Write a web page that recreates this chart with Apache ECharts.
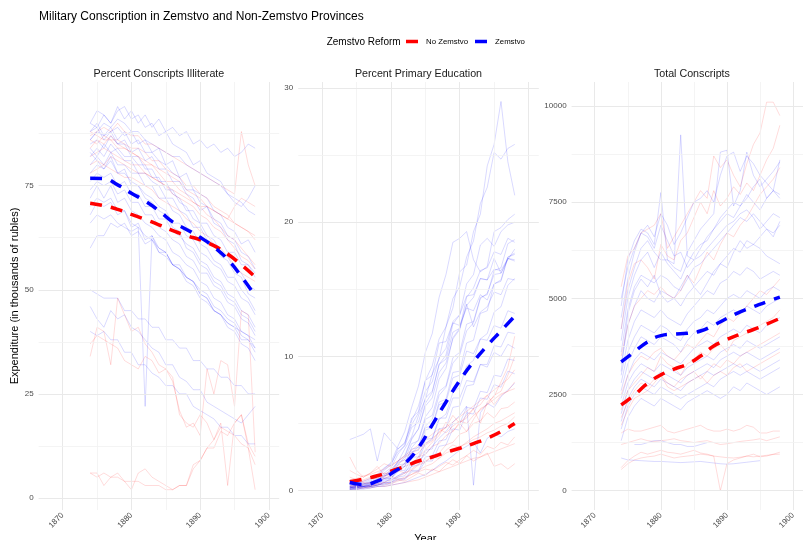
<!DOCTYPE html>
<html>
<head>
<meta charset="utf-8">
<script src="https://cdn.jsdelivr.net/npm/echarts@6/dist/echarts.min.js"></script>
<style>html,body{margin:0;padding:0;background:#fff}#c{width:803px;height:540px}</style>
</head>
<body>
<div id="c"></div>
<script>
// ---------------- DATA ----------------
const years = [1874,1875,1876,1877,1878,1879,1880,1881,1882,1883,1884,1885,1886,1887,1888,1889,1890,1891,1892,1893,1894,1895,1896,1897,1898];
const smoothYears = [1874,1876,1878,1880,1882,1884,1886,1888,1890,1892,1894,1896,1898];
const groups = ['No Zemstvo', 'Zemstvo'];
const panelTitles = ['Percent Conscripts Illiterate', 'Percent Primary Education', 'Total Conscripts'];
const xTicks = [1870, 1880, 1890, 1900];
const yTicksIllit = [0, 25, 50, 75];
const yTicksPrim = [0, 10, 20, 30];
const yTicksTotal = [0, 2500, 5000, 7500, 10000];

// Percent conscripts illiterate – Zemstvo provinces
const illitZ = [
 [90,93,92,90,94,91,93,90,92,89,91,88,89,87,88,85,86,84,85,83,84,82,83,85,84],
 [88,89,92,90,93,94,91,92,89,90,87,88,85,84,83,80,81,78,77,76,73,72,71,69,68],
 [86,88,87,88,89,87,88,85,86,83,84,80,81,77,78,74,73,72,69,68,65,64,61,62,59],
 [85,86,84,87,85,86,83,84,81,82,79,79,76,76,73,72,69,70,66,65,62,61,57,56,54],
 [84,82,85,83,84,82,82,80,80,77,77,74,74,71,70,67,66,63,62,59,58,55,54,51,50],
 [82,84,82,85,83,81,81,78,78,76,75,72,72,69,68,65,65,62,61,58,57,54,53,49,48],
 [80,82,80,83,80,80,78,78,75,75,72,72,69,68,65,64,61,60,57,56,53,53,50,48,45],
 [78,80,79,81,78,78,76,75,73,72,70,69,66,66,63,62,59,58,56,55,52,51,48,47,44],
 [76,78,77,78,75,76,73,73,70,70,67,67,64,63,61,60,57,56,53,52,49,48,45,44,41],
 [74,76,75,76,73,74,71,71,68,68,65,64,62,61,58,57,54,54,51,50,47,46,43,42,39],
 [72,75,72,75,71,72,69,68,66,65,63,62,59,58,56,55,52,51,48,47,44,43,40,39,36],
 [70,72,71,72,69,69,66,65,63,62,60,59,56,56,53,52,49,48,45,44,41,40,37,36,33],
 [60,63,63,66,65,66,63,64,61,62,59,58,56,55,53,52,49,48,45,44,42,41,38,38,35],
 [68,71,70,71,68,69,65,66,62,63,59,59,56,55,53,52,50,49,46,45,43,42,39,38,36],
 [50,49,48,48,48,45,45,43,43,41,41,38,38,36,36,33,33,31,31,29,29,27,27,25,25],
 [46,43,41,45,43,44,41,40,38,36,35,32,32,29,28,26,26,23,22,21,20,19,18,20,22],
 [40,39,40,38,38,35,35,32,32,30,29,27,27,25,25,22,21,20,19,17,17,15,15,13,13],
 [66,68,67,68,66,65,64,65,22,63,60,59,56,55,52,51,48,47,45,44,42,41,40,39,38],
 [88,90,87,89,86,88,85,86,83,83,81,80,78,77,74,74,71,70,67,66,63,62,59,58,55],
 [83,81,79,82,78,79,75,75,72,71,69,68,65,64,60,59,56,55,52,51,48,47,44,43,40],
 [90,89,86,88,85,85,82,82,79,79,76,76,73,72,69,69,66,66,63,62,59,59,56,56,53],
 [86,88,90,89,91,90,88,88,86,85,84,83,82,82,80,79,78,77,76,75,73,71,70,72,75]
];
// Percent conscripts illiterate – non-Zemstvo provinces
const illitN = [
 [87,88,89,88,90,88,87,87,85,85,84,83,82,81,80,79,78,77,76,75,74,73,88,80,75],
 [86,85,87,86,86,85,84,84,83,81,81,79,78,77,75,75,73,72,70,69,68,66,65,64,62],
 [84,86,85,87,85,84,83,82,80,80,78,76,76,74,73,71,70,68,67,65,63,62,60,58,56],
 [82,83,84,83,82,81,80,80,78,77,76,75,73,72,71,70,68,67,65,64,62,60,58,57,55],
 [80,81,80,82,81,80,79,78,78,77,76,75,74,73,72,71,70,70,69,68,67,66,65,64,63],
 [78,79,80,79,78,77,77,76,75,74,72,71,70,69,67,66,64,63,61,60,58,56,54,53,52],
 [88,87,86,86,84,84,83,82,81,80,79,78,77,76,74,73,72,70,69,68,67,70,72,71,70],
 [34,41,40,32,48,44,40,41,37,35,32,31,28,21,17,18,15,31,25,33,32,22,45,44,11],
 [37,39,38,37,36,33,32,31,34,33,30,31,29,20,18,17,20,18,14,18,3,18,20,12,8],
 [6,6,3,5,6,4,2,6,7,5,4,3,2,3,3,8,9,12,12,16,15,18,20,13,10],
 [6,5,6,5,5,4,4,4,3,3,3,2,2,3,3,7,9,12,14,17,16,15,13,12,2]
];
const illitZSmooth = [76.8,76.7,75.2,73.2,71.3,69.0,66.3,64.5,62.6,60.3,57.3,53.2,48.6];
const illitNSmooth = [70.8,70.2,69.3,68.1,66.9,65.6,64.2,63.0,62.0,60.6,58.6,56.0,53.1];

// Percent primary education – Zemstvo provinces
const primZ = [
 [0.2,0.3,0.3,0.5,0.7,1.0,1.6,2.1,3.1,4.0,5.6,6.8,8.7,9.8,12.2,13.6,16.3,16.8,19.3,20.6,24.2,25.8,29,24.5,22],
 [0.3,0.4,0.4,0.6,0.9,1.3,1.7,2.7,3.4,5.2,6.3,8.2,9.3,11.3,12.2,14.3,15.2,17.4,18.6,21.4,22.6,25.2,24.7,25.5,25.8],
 [0.4,0.5,0.6,0.8,1.1,1.6,2.1,3.3,4.4,6.2,7.8,10.3,11.7,14.4,16.1,18.5,18.8,19.3,17.2,16.3,16.7,19.3,19.6,20.2,20.6],
 [0.2,0.2,0.3,0.4,0.6,0.9,1.1,1.9,2.5,3.8,4.6,6.5,7.3,9.4,10.1,12.4,13.1,15.4,16.1,18.3,18.8,18.2,19.3,19.8,20],
 [0.1,0.2,0.3,0.4,0.5,0.8,0.9,1.6,2.0,3.2,3.8,5.5,6.2,8.3,9.1,11.4,12.1,14.4,15.1,16.4,16.6,17.8,17.6,18.8,18.5],
 [0.3,0.4,0.5,0.6,0.8,1.2,1.4,2.2,2.6,3.9,4.6,6.3,6.9,8.8,9.5,11.3,12.0,13.8,14.4,15.8,15.7,17.3,16.2,17.2,18],
 [3.8,4.0,4.2,4.6,2.2,4.3,3.7,3.1,3.6,4.9,5.8,7.4,8.1,9.9,10.6,12.6,13.1,14.5,14.6,15.8,15.7,16.5,16.4,17.3,17.1],
 [0.2,0.2,0.3,0.3,0.4,0.6,0.9,1.4,1.8,2.8,3.3,4.8,5.3,7.1,7.7,9.5,10.1,11.9,12.5,14.3,14.7,16.1,16.2,17.3,17.2],
 [0.1,0.1,0.2,0.3,0.4,0.5,0.7,1.1,1.3,2.1,2.3,3.5,3.8,5.3,5.7,7.3,7.7,9.3,9.7,11.3,11.7,13.3,13.7,15.3,15.8],
 [0.5,0.6,0.7,0.9,1.2,1.7,2.0,2.9,3.3,4.7,5.1,6.9,7.4,9.4,9.8,11.8,12.1,13.9,12.2,13.3,13.7,14.8,14.6,15.8,15.7],
 [0.2,0.3,0.3,0.4,0.6,0.9,1.0,1.7,1.8,2.9,3.0,4.5,4.7,6.4,6.6,8.4,8.6,10.4,10.2,11.3,11.2,12.3,12.1,13.4,13.2],
 [0.1,0.2,0.2,0.3,0.4,0.6,0.6,1.0,1.1,1.8,1.9,3.0,3.1,4.6,4.7,6.2,6.3,7.8,7.9,9.4,9.4,10.8,10.7,11.8,11.7],
 [0.3,0.3,0.4,0.5,0.6,0.9,0.9,1.5,1.5,2.5,2.5,3.8,3.9,5.4,5.4,6.9,6.9,8.2,8.1,9.4,9.2,10.3,10.0,10.9,10.6],
 [0.2,0.2,0.3,0.3,0.4,0.5,0.6,0.9,0.9,1.5,1.5,2.5,2.6,3.7,3.8,5.0,5.0,6.2,6.1,7.4,7.3,8.6,8.5,9.8,9.7],
 [0.1,0.1,0.1,0.2,0.3,0.4,0.5,0.8,0.8,1.4,1.4,2.2,2.2,3.3,3.4,4.6,4.5,5.8,5.7,6.9,6.8,7.9,7.7,8.9,8.7],
 [0.3,0.4,0.5,0.7,1.0,1.5,1.9,3.1,3.5,5.4,5.9,8.2,8.6,11.0,11.1,12.5,12.3,13.6,13.4,14.6,14.2,15.4,15.7,17.4,17.6],
 [0.2,0.3,0.4,0.5,0.7,1.1,1.3,2.1,2.3,3.5,3.7,5.3,5.6,7.4,7.8,9.9,10.3,12.4,12.6,14.4,14.6,16.4,16.6,18.4,18.7],
 [0.4,0.4,0.5,0.6,0.8,1.1,1.2,1.9,2.0,3.1,3.2,4.7,4.8,6.6,6.8,8.8,8.9,11.0,11.2,13.2,13.4,15.4,15.6,17.4,17.7],
 [0.1,0.1,0.2,0.2,0.3,0.3,0.4,0.5,0.6,0.8,1.0,1.2,1.5,1.9,2.2,2.6,3.0,3.3,3.6,2.8,3.9,4.2,4.0,4.4,4.6],
 [0.2,0.3,0.3,0.4,0.5,0.7,0.8,1.1,1.4,1.8,2.2,2.7,3.3,3.9,4.4,5.1,5.6,6.3,0.4,5.8,6.5,6.2,7.0,7.5,8.0]
];
// Percent primary education – non-Zemstvo provinces
const primN = [
 [2.5,1.5,1.0,1.3,1.8,1.2,1.5,2.0,2.3,2.0,2.5,3.0,3.6,4.1,5.1,4.4,5.0,5.6,6.1,5.0,6.6,7.0,8.1,9.2,11.5],
 [0.5,0.6,0.7,0.9,1.2,1.3,1.2,1.7,2.0,2.5,2.8,3.4,3.7,4.4,4.7,5.6,5.0,4.4,5.3,6.1,6.4,7.1,7.4,8.6,10],
 [0.3,0.4,0.5,0.6,0.8,1.0,1.3,1.4,1.8,2.0,2.5,2.7,3.3,3.5,4.1,4.4,5.1,5.4,6.1,6.4,7.1,6.4,7.1,7.4,8.1],
 [0.2,0.3,0.3,0.4,0.5,0.6,0.8,1.0,1.3,1.5,1.9,2.1,2.6,2.8,3.4,3.6,4.2,4.4,5.0,5.2,5.8,5.4,6.1,6.2,6.6],
 [1.0,0.8,0.6,0.5,0.7,0.9,1.1,0.8,1.0,1.2,1.5,1.8,2.0,2.4,2.8,3.0,3.3,3.5,3.8,4.0,4.3,4.5,4.8,5.0,5.5],
 [0.1,0.1,0.2,0.2,0.3,0.3,0.4,0.5,0.6,0.7,0.8,1.0,1.2,1.4,1.6,1.8,2.0,2.2,2.4,2.5,2.7,2.9,3.1,3.3,3.5],
 [0.6,0.7,0.8,1.0,0.9,1.1,1.3,1.5,1.3,1.6,2.0,2.2,2.5,2.4,3.0,3.4,3.2,3.6,4.0,4.3,4.6,5.0,5.2,5.5,5.8],
 [0.4,0.3,0.2,0.3,0.4,0.6,0.5,0.7,0.9,1.2,1.4,1.6,1.5,1.8,2.1,1.9,2.3,2.6,2.2,2.5,2.8,1.8,2.0,1.6,2.0],
 [1.5,1.2,1.0,1.3,1.6,2.0,1.8,2.2,2.6,3.0,3.4,3.8,4.2,4.6,4.3,4.8,5.2,5.0,5.6,6.0,6.4,6.8,7.2,7.4,7.6],
 [0.8,0.9,1.1,1.2,1.4,1.6,1.9,2.2,2.5,2.8,3.1,3.5,3.9,4.3,4.7,5.1,5.5,5.9,6.3,6.7,7.1,7.5,7.9,8.3,9.0],
 [0.3,0.2,0.4,0.3,0.5,0.4,0.6,0.8,0.7,1.0,1.3,1.1,1.6,1.4,1.9,2.3,2.0,2.6,3.0,2.7,3.3,3.1,3.6,3.4,4.0]
];
const primZSmooth = [0.6,0.45,0.7,1.25,2.0,3.2,4.9,6.6,8.2,9.6,10.8,11.9,13.0];
const primNSmooth = [0.65,0.85,1.1,1.45,1.8,2.2,2.5,2.85,3.15,3.5,3.9,4.4,5.0];

// Total conscripts – Zemstvo provinces
const totZ = [
 [4800,6000,6500,6800,6700,6400,7750,6000,5800,5700,6200,6500,6800,7000,7200,8800,8850,7400,7800,8800,8200,7900,8100,8300,8550],
 [4500,5500,6200,6700,6600,6300,6900,6500,6100,6200,5800,6000,6300,6600,6800,7000,7200,7100,7400,7600,7900,8100,7600,7800,7700],
 [4200,5200,5800,6300,6500,6200,6000,6000,5900,9250,6100,6000,6100,6300,6500,6700,6900,7000,7200,7300,7100,6800,7000,7200,7100],
 [3900,5000,5600,6000,6200,5800,6200,5900,5700,5500,5900,6200,6400,6500,6800,7100,7300,7500,7400,7700,7500,7300,7600,7800,7600],
 [3600,4700,5300,5600,5500,5400,5600,5500,5300,5200,5500,5800,5900,6100,6300,6500,6700,6900,7100,7000,7200,7000,6800,6600,7000],
 [3300,4300,4800,5200,5000,4900,5200,5100,5000,4800,5100,5300,5500,5700,5600,5900,6100,6300,6200,6500,6400,6300,6100,6000,5900],
 [3000,3900,4400,4700,4600,4500,4700,4500,4400,4300,4600,4800,5000,5200,5100,5400,5500,5700,5600,5800,5700,5500,5600,5700,5600],
 [2800,3600,4000,4300,4200,4100,4300,4200,4000,3900,4200,4400,4500,4700,4600,4800,5000,5100,5000,5200,5100,5000,5200,5300,5200],
 [2600,3300,3700,4000,3900,3800,4000,3900,3800,3600,3900,4100,4200,4400,4300,4500,4600,4700,4600,4800,4700,4600,4800,4900,5000],
 [2400,3000,3400,3600,3500,3400,3600,3500,3400,3300,3500,3700,3800,3900,3800,4000,4100,4200,4100,4300,4200,4100,4300,4400,4500],
 [2200,2800,3100,3300,3200,3100,3300,3200,3100,3000,3200,3300,3400,3500,3400,3600,3700,3800,3700,3900,3800,3700,3800,3900,4000],
 [2000,2600,2900,3100,3000,2900,3100,3000,2900,2800,3000,3100,3200,3300,3200,3400,3500,3600,3500,3600,3500,3400,3500,3600,3700],
 [1800,2400,2700,2900,2800,2700,2900,2800,2700,2600,2800,2900,3000,3100,3000,3100,3200,3300,3200,3300,3200,3100,3200,3300,3400],
 [1600,2200,2500,2700,2600,2500,2700,2600,2500,2400,2500,2600,2700,2800,2700,2900,3000,3100,3000,3100,3000,2900,3000,3100,3200],
 [1300,1900,2200,2400,2300,2200,2400,2300,2200,2100,2300,2400,2500,2600,2500,2400,2500,2700,2600,2800,2700,2600,2500,2600,2700],
 [null,null,1200,1200,1250,1300,1300,1250,1200,1200,1150,1150,1200,1250,null,null,null,null,null,null,null,null,null,null,null],
 [850,800,790,780,770,760,760,750,740,730,740,750,760,740,720,700,690,700,720,740,760,780,null,null,null],
 [5000,5800,6300,6700,6900,6600,7200,6900,6400,6700,7100,7500,7600,7800,7500,8200,8700,8800,8300,8700,8500,8200,8000,7800,8600],
 [3100,4600,5200,5500,5300,5600,5100,4900,5000,5300,5600,5300,5100,5400,5700,5900,5800,6200,6500,6300,6400,6600,6800,6700,6900]
];
// Total conscripts – non-Zemstvo provinces
const totN = [
 [5300,6100,6300,6700,6800,6900,7200,6300,6600,6900,7200,7500,7800,7600,8700,8400,8600,8200,7900,8500,9000,9300,10100,10100,9750],
 [4200,5400,5900,6000,5800,5500,6400,6100,6000,6500,6700,7100,7500,7200,7800,7400,7600,7900,7700,8000,7800,8200,8600,8900,9500],
 [3500,4300,4800,5000,5200,5100,5300,5100,5000,5200,5600,5400,5800,6200,6000,6400,6700,6600,6900,7100,7400,7700,7900,8100,8400],
 [2500,3000,3300,3500,3400,3600,3700,3500,3400,3600,3800,3700,3900,4100,4000,4300,4500,4400,4600,4800,5000,5200,5100,5300,5500],
 [2100,2600,2800,3000,3200,3100,3500,3300,3200,3000,3300,3400,3600,3500,3700,3800,3600,3900,4000,4100,4200,4300,4400,4500,4700],
 [1900,2300,2600,2800,2700,2900,3000,2800,2700,2900,3000,3100,2900,3100,3300,3200,3400,3300,3500,3600,3700,3800,3900,4000,4100],
 [1700,2100,2400,2500,2600,2800,3000,2700,2600,2700,2800,2900,3000,2800,3000,3100,3000,3200,3300,3100,3200,3300,3400,3500,3600],
 [1500,1600,1550,1550,1600,1650,1700,1550,1500,1550,1600,1650,1700,1600,1550,1550,1600,1550,1600,1700,1650,1500,1500,1550,1550],
 [1200,1250,1300,1350,1300,1280,1300,1320,1350,1300,1280,1250,1280,1300,1250,1200,1220,1250,1280,1300,1320,1350,1300,1350,1400],
 [600,780,900,1000,950,1000,1050,1000,980,950,1000,1050,980,950,900,0,700,800,850,900,950,880,900,950,1000],
 [550,700,800,850,880,900,950,900,850,880,900,920,950,930,900,880,860,850,870,900,880,900,920,940,950]
];
const totZSmooth = [3350,3610,3870,4030,4070,4090,4150,4300,4480,4650,4780,4910,5030];
const totNSmooth = [2230,2490,2790,3010,3160,3290,3500,3760,3930,4070,4190,4330,4480];

// ---------------- CHART ----------------
const FONT = 'Liberation Sans';
const RED = '#ff0000', BLUE = '#0000ff';
const THIN_RED = 'rgba(255,0,0,0.14)', THIN_BLUE = 'rgba(0,0,255,0.15)';
const plain = v => String(v);

const panels = [
  {z: illitZ, n: illitN, zs: illitZSmooth, ns: illitNSmooth, yMin: -2.88, yMax: 99.9, ticks: yTicksIllit, minor: [12.5, 37.5, 62.5, 87.5]},
  {z: primZ, n: primN, zs: primZSmooth, ns: primNSmooth, yMin: -1.45, yMax: 30.45, ticks: yTicksPrim, minor: [5, 15, 25]},
  {z: totZ, n: totN, zs: totZSmooth, ns: totNSmooth, yMin: -502, yMax: 10624, ticks: yTicksTotal, minor: [1250, 3750, 6250, 8750]}
];
const gridLeft = [38.6, 298.2, 571.6];
const gridW = 240.6, gridTop = 82, gridH = 428;

const grids = [], xAxes = [], yAxes = [], series = [], graphics = [];
panels.forEach((p, gi) => {
  grids.push({left: gridLeft[gi], top: gridTop, width: gridW, height: gridH, containLabel: false});
  xAxes.push({
    type: 'value', gridIndex: gi, min: 1866.5, max: 1901.5,
    axisLine: {show: false}, axisTick: {show: false}, splitLine: {show: false},
    axisLabel: {customValues: xTicks, formatter: plain, rotate: 45, fontSize: 8, color: '#4d4d4d', margin: 4, fontFamily: FONT}
  });
  const ya = {
    type: 'value', gridIndex: gi, min: p.yMin, max: p.yMax,
    axisLine: {show: false}, axisTick: {show: false}, splitLine: {show: false},
    axisLabel: {customValues: p.ticks, formatter: plain, fontSize: 8, color: '#4d4d4d', margin: 5, fontFamily: FONT}
  };
  if (gi === 0) {
    ya.name = 'Expenditure (in thousands of rubles)';
    ya.nameLocation = 'middle';
    ya.nameRotate = 90;
    ya.nameGap = 13;
    ya.nameTextStyle = {fontSize: 11, color: '#000', fontFamily: FONT};
  }
  yAxes.push(ya);

  // grid lines (major / minor) as mark lines
  const major = {color: '#e9e9e9', width: 1, type: 'solid'};
  const minor = {color: '#f1f1f1', width: 0.8, type: 'solid'};
  const ml = [];
  xTicks.forEach(v => ml.push({xAxis: v, lineStyle: major}));
  [1875, 1885, 1895].forEach(v => ml.push({xAxis: v, lineStyle: minor}));
  p.ticks.forEach(v => ml.push({yAxis: v, lineStyle: major}));
  p.minor.forEach(v => ml.push({yAxis: v, lineStyle: minor}));
  series.push({
    type: 'line', xAxisIndex: gi, yAxisIndex: gi, data: [], silent: true, z: 1,
    markLine: {silent: true, symbol: ['none', 'none'], animation: false, label: {show: false},
      emphasis: {disabled: true}, data: ml}
  });

  // thin province lines
  p.n.forEach(arr => series.push({
    type: 'line', xAxisIndex: gi, yAxisIndex: gi, silent: true, animation: false, z: 2,
    symbol: 'none', emphasis: {disabled: true},
    lineStyle: {color: THIN_RED, width: 1},
    data: years.map((y, i) => [y, arr[i]])
  }));
  p.z.forEach(arr => series.push({
    type: 'line', xAxisIndex: gi, yAxisIndex: gi, silent: true, animation: false, z: 2,
    symbol: 'none', emphasis: {disabled: true},
    lineStyle: {color: THIN_BLUE, width: 1},
    data: years.map((y, i) => [y, arr[i]])
  }));

  // smoothed group trends
  [[groups[0], p.ns, RED], [groups[1], p.zs, BLUE]].forEach(([name, arr, col]) => series.push({
    type: 'line', name: name, xAxisIndex: gi, yAxisIndex: gi, silent: true, animation: false, z: 5,
    symbol: 'none', smooth: 0.5, color: col, itemStyle: {color: col},
    emphasis: {disabled: true},
    lineStyle: {color: col, width: 3.5, type: [12, 9], cap: 'butt'},
    data: smoothYears.map((y, i) => [y, arr[i]])
  }));

  graphics.push({
    type: 'text', x: gridLeft[gi] + gridW / 2, y: 74,
    style: {text: panelTitles[gi], fill: '#1a1a1a', font: '10.7px "' + FONT + '"',
      textAlign: 'center', textVerticalAlign: 'middle', align: 'center', verticalAlign: 'middle'}
  });
});

graphics.push({
  type: 'text', x: 425.3, y: 539,
  style: {text: 'Year', fill: '#000', font: '11px "' + FONT + '"',
    textAlign: 'center', textVerticalAlign: 'middle', align: 'center', verticalAlign: 'middle'}
});
graphics.push({
  type: 'text', x: 326.7, y: 42.3,
  style: {text: 'Zemstvo Reform', fill: '#000', font: '10px "' + FONT + '"',
    textAlign: 'left', textVerticalAlign: 'middle', align: 'left', verticalAlign: 'middle'}
});

const chart = echarts.init(document.getElementById('c'), null, {renderer: 'canvas'});
chart.setOption({
  animation: false,
  backgroundColor: '#ffffff',
  textStyle: {fontFamily: FONT},
  title: {text: 'Military Conscription in Zemstvo and Non-Zemstvo Provinces', left: 39, top: 11, padding: 0,
    textStyle: {fontSize: 12, fontWeight: 'normal', color: '#000', fontFamily: FONT}},
  legend: {
    data: [{name: groups[0], icon: 'rect'}, {name: groups[1], icon: 'rect'}],
    left: 406, top: 37.5, padding: 0, itemWidth: 12, itemHeight: 3.5, itemGap: 7,
    selectedMode: false,
    textStyle: {fontSize: 7.8, color: '#000', fontFamily: FONT, padding: [0, 0, 0, 3]}
  },
  grid: grids, xAxis: xAxes, yAxis: yAxes, series: series, graphic: graphics
});
</script>
</body>
</html>
